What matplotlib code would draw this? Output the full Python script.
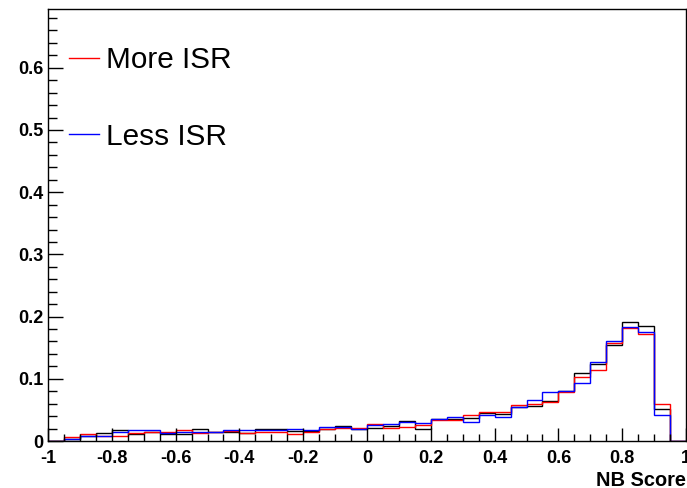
import numpy as np
import matplotlib
matplotlib.use("Agg")
import matplotlib.pyplot as plt
from matplotlib.ticker import MultipleLocator

plt.rcParams['font.family'] = ['Liberation Sans', 'DejaVu Sans']

# 40 bins of width 0.05 between -1 and 1
bin_lo, bin_hi, n_bins = -1.0, 1.0, 40

more_isr = [0.000, 0.006, 0.011, 0.008, 0.008, 0.013, 0.015, 0.015, 0.017, 0.013,
            0.015, 0.016, 0.013, 0.015, 0.015, 0.012, 0.015, 0.020, 0.021, 0.021,
            0.027, 0.021, 0.022, 0.025, 0.034, 0.034, 0.041, 0.046, 0.046, 0.058,
            0.059, 0.063, 0.079, 0.103, 0.114, 0.157, 0.181, 0.172, 0.060, 0.000]
less_isr = [0.000, 0.003, 0.008, 0.008, 0.015, 0.017, 0.017, 0.013, 0.015, 0.015,
            0.015, 0.017, 0.017, 0.018, 0.017, 0.019, 0.018, 0.022, 0.022, 0.020,
            0.025, 0.027, 0.031, 0.029, 0.036, 0.038, 0.030, 0.041, 0.039, 0.054,
            0.066, 0.079, 0.081, 0.094, 0.127, 0.160, 0.183, 0.176, 0.041, 0.000]
nominal = [0.000, 0.003, 0.008, 0.013, 0.017, 0.012, 0.015, 0.012, 0.011, 0.019,
           0.015, 0.015, 0.013, 0.020, 0.020, 0.016, 0.016, 0.019, 0.024, 0.020,
           0.021, 0.024, 0.032, 0.020, 0.035, 0.035, 0.037, 0.045, 0.044, 0.054,
           0.056, 0.065, 0.081, 0.109, 0.124, 0.154, 0.191, 0.185, 0.051, 0.000]

x_ticks = [-1, -0.8, -0.6, -0.4, -0.2, 0, 0.2, 0.4, 0.6, 0.8, 1]
x_labels = ['-1', '-0.8', '-0.6', '-0.4', '-0.2', '0', '0.2', '0.4', '0.6', '0.8', '1']
y_ticks = [0, 0.1, 0.2, 0.3, 0.4, 0.5, 0.6]
y_labels = ['0', '0.1', '0.2', '0.3', '0.4', '0.5', '0.6']

edges = np.linspace(bin_lo, bin_hi, n_bins + 1)

fig = plt.figure(figsize=(6.87, 4.88), dpi=100)
ax = fig.add_axes([48 / 687, 47 / 488, 638 / 687, 432 / 488])

ax.stairs(nominal, edges, color='black', lw=1)
ax.stairs(more_isr, edges, color='red', lw=1, label='More ISR')
ax.stairs(less_isr, edges, color='blue', lw=1, label='Less ISR')

ax.set_xlim(-1, 1)
ax.set_ylim(0, 0.6945)
ax.set_xticks(x_ticks)
ax.set_xticklabels(x_labels)
ax.set_yticks(y_ticks)
ax.set_yticklabels(y_labels)
ax.xaxis.set_minor_locator(MultipleLocator(0.05))
ax.yaxis.set_minor_locator(MultipleLocator(0.02))

ax.tick_params(axis='x', which='major', direction='in', length=9.4, width=1, pad=6.5)
ax.tick_params(axis='x', which='minor', direction='in', length=5, width=1)
ax.tick_params(axis='y', which='major', direction='in', length=10.8, width=1, pad=3.5)
ax.tick_params(axis='y', which='minor', direction='in', length=6.5, width=1)
for lab in ax.get_xticklabels() + ax.get_yticklabels():
    lab.set_fontweight('bold')
    lab.set_fontsize(13)

for sp in ax.spines.values():
    sp.set_linewidth(1)

fig.text(686 / 687, 1 - 480 / 488, 'NB Score', ha='right', va='center',
         fontsize=14.4, fontweight='bold')

ax.legend(loc='upper left', bbox_to_anchor=(0.033, 0.914), frameon=False,
          fontsize=21.4, handlelength=1.01, handletextpad=0.235,
          labelspacing=1.64, borderaxespad=0, borderpad=0)

fig.savefig('out.png', dpi=100)
